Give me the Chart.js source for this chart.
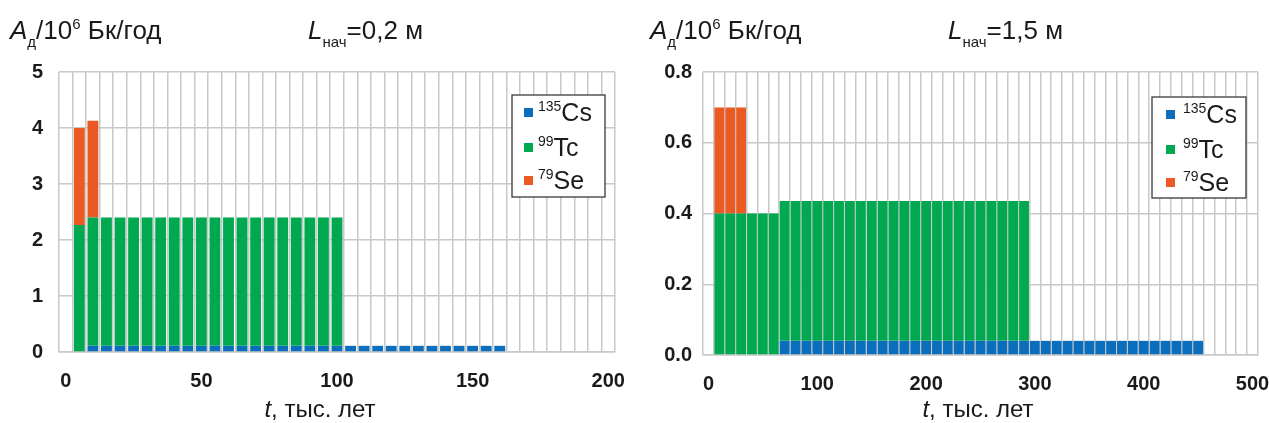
<!DOCTYPE html>
<html>
<head>
<meta charset="utf-8">
<script src="https://cdn.jsdelivr.net/npm/chart.js@4"></script>
<style>
  body { margin: 0; background: #fff; width: 1269px; height: 423px; position: relative; overflow: hidden;
         font-family: "Liberation Sans", Arial, sans-serif; color: #1a1a1a; }
  .box { position: absolute; top: 0; height: 423px; }
  .txt { position: absolute; font-size: 24px; line-height: 1; white-space: nowrap; }
  .hd { font-size: 26px; }
  .txt sub, .txt sup { font-size: 15px; line-height: 0; }
  .txt sub { vertical-align: -8px; }
  .txt sup { vertical-align: 10px; }
  .xt { transform: translateX(-50%); }
</style>
</head>
<body>
<div class="box" style="left:0;width:640px"><canvas id="left"></canvas></div>
<div class="box" style="left:640px;width:629px"><canvas id="right"></canvas></div>

<div class="txt hd" style="left:10px;top:17px"><i>A</i><sub>д</sub>/10<sup>6</sup> Бк/год</div>
<div class="txt hd" style="left:308px;top:17px"><i>L</i><sub>нач</sub>=0,2 м</div>
<div class="txt xt" style="left:320px;top:397px"><i>t</i>, тыс. лет</div>

<div class="txt hd" style="left:650px;top:17px"><i>A</i><sub>д</sub>/10<sup>6</sup> Бк/год</div>
<div class="txt hd" style="left:948px;top:17px"><i>L</i><sub>нач</sub>=1,5 м</div>
<div class="txt xt" style="left:978px;top:397px"><i>t</i>, тыс. лет</div>

<script>
// left chart: L = 0.2 m, step 5 thousand years
const tLeft = [0, 5, 10, 15, 20, 25, 30, 35, 40, 45,
               50, 55, 60, 65, 70, 75, 80, 85, 90, 95,
               100, 105, 110, 115, 120, 125, 130, 135, 140, 145,
               150, 155, 160, 165, 170, 175, 180, 185, 190, 195, 200];
const cs135Left = [null, null,
  0.11, 0.11, 0.11, 0.11, 0.11, 0.11, 0.11, 0.11, 0.11, 0.11,
  0.11, 0.11, 0.11, 0.11, 0.11, 0.11, 0.11, 0.11, 0.11, 0.11,
  0.11, 0.11, 0.11, 0.11, 0.11, 0.11, 0.11, 0.11, 0.11, 0.11,
  0.11,
  null, null, null, null, null, null, null, null];
const tc99Left = [null, 2.27,
  2.29, 2.29, 2.29, 2.29, 2.29, 2.29, 2.29, 2.29, 2.29, 2.29,
  2.29, 2.29, 2.29, 2.29, 2.29, 2.29, 2.29, 2.29, 2.29,
  null, null, null, null, null, null, null, null, null, null,
  null, null, null, null, null, null, null, null, null, null];
const se79Left = [null, 1.73, 1.73,
  null, null, null, null, null, null, null, null, null, null,
  null, null, null, null, null, null, null, null, null, null,
  null, null, null, null, null, null, null, null, null, null,
  null, null, null, null, null, null, null, null];

// right chart: L = 1.5 m, step 10 thousand years
const tRight = [0, 10, 20, 30, 40, 50, 60, 70, 80, 90,
                100, 110, 120, 130, 140, 150, 160, 170, 180, 190,
                200, 210, 220, 230, 240, 250, 260, 270, 280, 290,
                300, 310, 320, 330, 340, 350, 360, 370, 380, 390,
                400, 410, 420, 430, 440, 450, 460, 470, 480, 490, 500];
const cs135Right = [null, null, null, null, null, null, null,
  0.04, 0.04, 0.04, 0.04, 0.04, 0.04, 0.04, 0.04, 0.04, 0.04,
  0.04, 0.04, 0.04, 0.04, 0.04, 0.04, 0.04, 0.04, 0.04, 0.04,
  0.04, 0.04, 0.04, 0.04, 0.04, 0.04, 0.04, 0.04, 0.04, 0.04,
  0.04, 0.04, 0.04, 0.04, 0.04, 0.04, 0.04, 0.04, 0.04,
  null, null, null, null, null];
const tc99Right = [null,
  0.40, 0.40, 0.40, 0.40, 0.40, 0.40,
  0.395, 0.395, 0.395, 0.395, 0.395, 0.395, 0.395, 0.395, 0.395, 0.395,
  0.395, 0.395, 0.395, 0.395, 0.395, 0.395, 0.395, 0.395, 0.395, 0.395,
  0.395, 0.395, 0.395,
  null, null, null, null, null, null, null, null, null, null,
  null, null, null, null, null, null, null, null, null, null, null];
const se79Right = [null, 0.30, 0.30, 0.30,
  null, null, null, null, null, null, null, null, null, null,
  null, null, null, null, null, null, null, null, null, null,
  null, null, null, null, null, null, null, null, null, null,
  null, null, null, null, null, null, null, null, null, null,
  null, null, null, null, null, null, null];

const blue = '#0a6ebd';
const green = '#00a84f';
const orange = '#ea5a22';
const gridColor = '#c8c8c8';
const fontFamily = '"Liberation Sans", Arial, sans-serif';

// boxed legend drawn inside the plot, with the mass number as superscript
const legendBox = {
    id: 'legendBox',
    afterDraw(chart, args, opts) {
        const ctx = chart.ctx;
        const a = chart.chartArea;
        const x = a.right - opts.right - opts.w;
        const y = a.top + opts.top;
        ctx.save();
        ctx.fillStyle = '#fff';
        ctx.fillRect(x, y, opts.w, opts.h);
        ctx.strokeStyle = '#3a3a3a';
        ctx.lineWidth = 1.3;
        ctx.strokeRect(x, y, opts.w, opts.h);
        ctx.textBaseline = 'alphabetic';
        chart.data.datasets.forEach((ds, i) => {
            const cy = y + opts.rows[i];
            ctx.fillStyle = ds.backgroundColor;
            ctx.fillRect(x + opts.sq, cy - 4, 9, 9);
            const m = ds.label.match(/^(\d+)(.*)$/);
            ctx.fillStyle = '#1a1a1a';
            ctx.font = '14px ' + fontFamily;
            ctx.fillText(m[1], x + opts.tx, cy - 1);
            const w = ctx.measureText(m[1]).width;
            ctx.font = '25px ' + fontFamily;
            ctx.fillText(m[2], x + opts.tx + w, cy + 9);
        });
        ctx.restore();
    }
};

function makeChart(id, labels, cs, tc, se, cfg) {
    const data = {
        labels: labels,
        datasets: [
            { label: '135Cs', data: cs, backgroundColor: blue },
            { label: '99Tc', data: tc, backgroundColor: green },
            { label: '79Se', data: se, backgroundColor: orange }
        ]
    };
    const tickFont = { size: 20, weight: 'bold', family: fontFamily };
    return new Chart(document.getElementById(id), {
        type: 'bar',
        data: data,
        plugins: [legendBox],
        options: {
            responsive: true,
            maintainAspectRatio: false,
            animation: false,
            categoryPercentage: 1,
            barPercentage: cfg.barPct,
            layout: { padding: { top: cfg.top, right: cfg.right, left: 0, bottom: 0 } },
            plugins: {
                legend: { display: false },
                tooltip: { enabled: false },
                legendBox: cfg.legend
            },
            scales: {
                x: {
                    stacked: true,
                    grid: { offset: true, color: gridColor, lineWidth: 1.5, drawTicks: false },
                    border: { color: gridColor, width: 1.5 },
                    ticks: {
                        autoSkip: false,
                        maxRotation: 0,
                        padding: 17,
                        color: '#1a1a1a',
                        font: tickFont,
                        callback: function (v, i) {
                            return i % 10 === 0 ? this.getLabelForValue(v) : '';
                        }
                    },
                    afterFit(s) {
                        s.height = cfg.xh;
                        s.paddingLeft = 0;
                        s.paddingRight = 0;
                    }
                },
                y: {
                    stacked: true,
                    min: 0,
                    max: cfg.ymax,
                    grid: { color: gridColor, lineWidth: 1.5, drawTicks: false },
                    border: { display: false },
                    ticks: {
                        stepSize: cfg.step,
                        padding: cfg.ypad,
                        color: '#1a1a1a',
                        font: tickFont,
                        callback: cfg.fmt
                    },
                    afterFit(s) {
                        s.width = cfg.yw;
                        s.paddingTop = 0;
                        s.paddingBottom = 0;
                    }
                }
            }
        }
    });
}

makeChart('left', tLeft, cs135Left, tc99Left, se79Left, {
    barPct: 0.8, top: 72, right: 25, xh: 71, yw: 59, ymax: 5, step: 1, ypad: 16,
    fmt: v => String(v),
    legend: { w: 93, h: 102, right: 10, top: 23, rows: [17, 52, 85], sq: 12, tx: 26 }
});

makeChart('right', tRight, cs135Right, tc99Right, se79Right, {
    barPct: 0.9, top: 72, right: 11, xh: 68, yw: 63, ymax: 0.8, step: 0.2, ypad: 11,
    fmt: v => v.toFixed(1),
    legend: { w: 94, h: 101, right: 12, top: 25, rows: [17, 52, 85], sq: 14, tx: 31 }
});
</script>
</body>
</html>
